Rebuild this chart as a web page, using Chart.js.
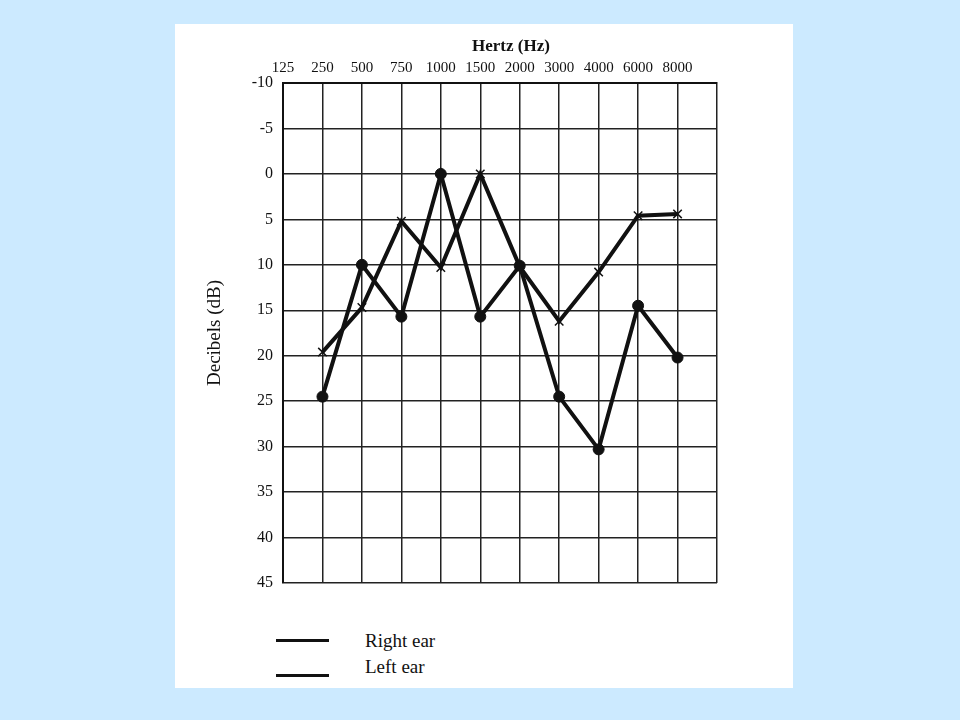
<!DOCTYPE html>
<html>
<head>
<meta charset="utf-8">
<script src="https://cdn.jsdelivr.net/npm/chart.js@4"></script>
<style>
  body { margin: 0; width: 960px; height: 720px; background: #cceaff; position: relative; overflow: hidden; }
  #panel { position: absolute; left: 175px; top: 24px; width: 618px; height: 664px; background: #fff; }
  #wrap { position: absolute; left: 0; top: 0; width: 618px; height: 600px; }
  .txt { position: absolute; font-family: "Liberation Serif", serif; color: #111; white-space: nowrap; }
  .key { position: absolute; height: 3px; background: #111; }
</style>
</head>
<body>
<div id="panel">
  <div id="wrap"><canvas id="audio"></canvas></div>
  <div class="txt" style="left:297px;top:12px;font-size:17px;font-weight:bold;">Hertz (Hz)</div>
  <div class="key" style="left:101px;top:615px;width:53px;"></div>
  <div class="key" style="left:101px;top:650px;width:53px;"></div>
  <div class="txt" style="left:190px;top:606px;font-size:19px;">Right ear</div>
  <div class="txt" style="left:190px;top:632px;font-size:19px;">Left ear</div>
</div>
<script>
// frequencies along the top, one label per grid line (the last line has none)
var freqLabels = ['125', '250', '500', '750', '1000', '1500', '2000', '3000', '4000', '6000', '8000']
var testedFreqs = ['250', '500', '750', '1000', '1500', '2000', '3000', '4000', '6000', '8000']
// hearing levels in dB
var rightEar = [24.5, 10, 15.7, 0, 15.7, 10.1, 24.5, 30.3, 14.5, 20.2]
var leftEar = [19.6, 14.7, 5.2, 10.3, 0, 10.2, 16.2, 10.8, 4.6, 4.4]

function toPoints(values) {
    return testedFreqs.map(function (f, i) {
        return { x: freqLabels.indexOf(f), y: values[i] }
    })
}

var serif = 'Liberation Serif'

new Chart(document.getElementById('audio'), {
    type: 'line',
    data: {
        datasets: [
            { label: 'Right ear', data: toPoints(rightEar), borderColor: '#111', backgroundColor: '#111',
              borderWidth: 4, pointStyle: 'circle', pointRadius: 5.5, pointBorderWidth: 1, tension: 0 },
            { label: 'Left ear', data: toPoints(leftEar), borderColor: '#111', backgroundColor: '#111',
              borderWidth: 4, pointStyle: 'crossRot', pointRadius: 6, pointBorderWidth: 1.5, tension: 0 }
        ]
    },
    options: {
        responsive: true,
        maintainAspectRatio: false,
        animation: false,
        layout: { padding: { left: 0, right: 76, top: 0, bottom: 41 } },
        scales: {
            x: {
                type: 'linear',
                position: 'top',
                min: 0,
                max: 11,
                afterFit: function (s) { s.height = 59 },
                ticks: {
                    stepSize: 1,
                    autoSkip: false,
                    maxRotation: 0,
                    padding: 6,
                    color: '#111',
                    font: { family: serif, size: 15 },
                    callback: function (v) { return freqLabels[v] || '' }
                },
                grid: { color: '#222', lineWidth: 1.5, drawTicks: false },
                border: { color: '#111', width: 2 }
            },
            y: {
                type: 'linear',
                reverse: true,
                min: -10,
                max: 45,
                afterFit: function (s) { s.width = 108 },
                ticks: {
                    stepSize: 5,
                    padding: 10,
                    color: '#111',
                    font: { family: serif, size: 16 }
                },
                title: {
                    display: true,
                    text: 'Decibels (dB)',
                    color: '#111',
                    font: { family: serif, size: 19 },
                    padding: { top: 29, bottom: 0 }
                },
                grid: { color: '#222', lineWidth: 1.5, drawTicks: false },
                border: { color: '#111', width: 2 }
            }
        },
        plugins: {
            legend: { display: false },
            tooltip: { enabled: false }
        }
    }
})
</script>
</body>
</html>
